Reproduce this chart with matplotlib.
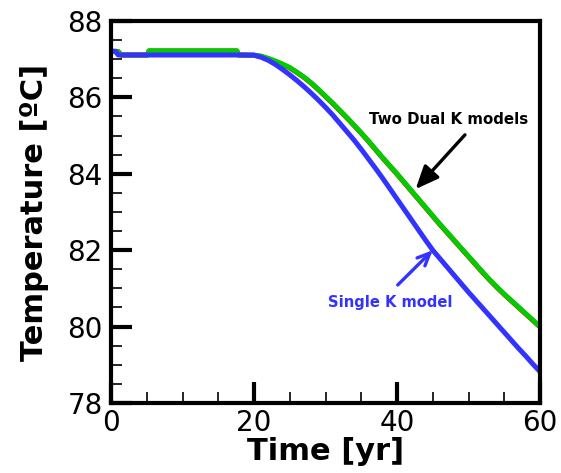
import matplotlib
matplotlib.use('Agg')
import matplotlib.pyplot as plt
from matplotlib.ticker import MultipleLocator

# Datos (tiempo en años, temperatura en ºC)
t_single = [0, 0.6, 1.0, 20, 20.3, 21, 22, 23, 24, 25, 26, 27, 28, 29, 30,
            31, 32, 33, 34, 35, 36, 37, 38, 39, 40, 41, 42, 43, 44, 45,
            46, 47, 48, 49, 50, 51, 52, 53, 54, 55, 56, 57, 58, 59, 60]
T_single = [87.21, 87.21, 87.11, 87.11, 87.09, 87.05, 86.97, 86.86, 86.73, 86.59,
            86.44, 86.28, 86.11, 85.93, 85.74, 85.54, 85.32, 85.10, 84.88, 84.64,
            84.39, 84.14, 83.88, 83.61, 83.34, 83.07, 82.80, 82.53, 82.26, 82.00,
            81.78, 81.56, 81.34, 81.12, 80.90, 80.69, 80.48, 80.27, 80.06, 79.85,
            79.64, 79.43, 79.23, 79.02, 78.82]

t_dual = [0, 1.0, 1.4, 5.1, 5.3, 17.6, 17.8, 20, 21, 22, 23, 24, 25, 26, 27, 28,
          29, 30, 31, 32, 33, 34, 35, 36, 37, 38, 39, 40, 41, 42, 43, 44,
          45, 46, 47, 48, 49, 50, 51, 52, 53, 54, 55, 56, 57, 58, 59, 60]
T_dual_green = [87.2, 87.2, 87.11, 87.11, 87.22, 87.22, 87.11, 87.10, 87.08, 87.02,
                86.95, 86.87, 86.78, 86.66, 86.53, 86.38, 86.21, 86.03, 85.85, 85.66,
                85.47, 85.27, 85.07, 84.86, 84.64, 84.42, 84.21, 84.00, 83.78, 83.56,
                83.34, 83.12, 82.90, 82.68, 82.47, 82.26, 82.05, 81.84, 81.63, 81.42,
                81.22, 81.03, 80.85, 80.68, 80.51, 80.34, 80.17, 80.00]
T_dual_red = [87.2, 87.2, 87.11, 87.11, 87.215, 87.215, 87.11, 87.10, 87.075, 87.01,
              86.94, 86.86, 86.77, 86.65, 86.52, 86.37, 86.20, 86.02, 85.84, 85.65,
              85.46, 85.26, 85.06, 84.85, 84.63, 84.41, 84.20, 83.99, 83.77, 83.55,
              83.33, 83.11, 82.89, 82.67, 82.46, 82.25, 82.04, 81.83, 81.62, 81.41,
              81.21, 81.02, 80.84, 80.67, 80.50, 80.33, 80.16, 79.99]

azul = '#3333ff'
verde = '#00cc00'
rojo = '#ff0000'

fig = plt.figure(figsize=(5.61, 4.73), dpi=100)
ax = fig.add_axes([0.198, 0.148, 0.7646, 0.8076])

ax.plot(t_dual, T_dual_red, color=rojo, lw=3.6, solid_capstyle='butt')
ax.plot(t_dual, T_dual_green, color=verde, lw=3.6, solid_capstyle='butt')
ax.plot(t_single, T_single, color=azul, lw=3.6, solid_capstyle='butt')

ax.set_xlim(0, 60)
ax.set_ylim(78, 88)
ax.xaxis.set_major_locator(MultipleLocator(20))
ax.xaxis.set_minor_locator(MultipleLocator(5))
ax.yaxis.set_major_locator(MultipleLocator(2))
ax.yaxis.set_minor_locator(MultipleLocator(0.5))

ax.tick_params(which='major', direction='in', length=15, width=3,
               labelsize=20, top=False, right=False)
ax.tick_params(which='minor', direction='in', length=8, width=1.2,
               top=False, right=False)
ax.tick_params(axis='x', which='major', pad=4)
ax.tick_params(axis='y', which='major', pad=6)
for s in ax.spines.values():
    s.set_linewidth(3)

ax.set_xlabel('Time [yr]', fontsize=22, fontweight='bold', labelpad=0)
ax.set_ylabel('Temperature [ºC]', fontsize=22, fontweight='bold')
ax.yaxis.set_label_coords(-0.145, 0.5)

# Anotaciones
ax.text(47.2, 85.41, 'Two Dual K models', fontsize=10.8, fontweight='bold',
        color='black', ha='center', va='center')
ax.annotate('', xy=(42.6, 83.6), xytext=(49.5, 85.02),
            arrowprops=dict(arrowstyle='-|>,head_length=1.4,head_width=0.6',
                            color='black', lw=2.4, shrinkA=0, shrinkB=0))
ax.text(39.0, 80.62, 'Single K model', fontsize=10.6, fontweight='bold',
        color=azul, ha='center', va='center')
ax.annotate('', xy=(45.0, 82.0), xytext=(40.1, 81.09),
            arrowprops=dict(arrowstyle='->,head_length=0.9,head_width=0.4',
                            color=azul, lw=2.4, shrinkA=0, shrinkB=0))

fig.savefig('out.png', dpi=100)
